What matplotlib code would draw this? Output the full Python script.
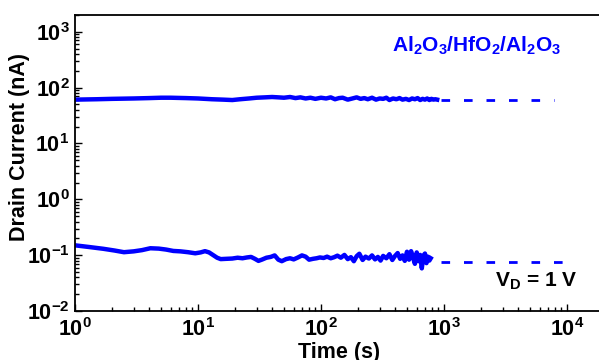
import numpy as np
import matplotlib
matplotlib.use('Agg')
import matplotlib.pyplot as plt

plt.rcParams['font.family'] = ['Liberation Sans', 'DejaVu Sans']
plt.rcParams['font.weight'] = 'bold'
plt.rcParams['mathtext.fontset'] = 'custom'
plt.rcParams['mathtext.rm'] = 'Liberation Sans:bold'
plt.rcParams['mathtext.bf'] = 'Liberation Sans:bold'
plt.rcParams['mathtext.it'] = 'Liberation Sans:bold'
plt.rcParams['mathtext.default'] = 'regular'

# upper trace (nA)
t_hi = [1, 1.5, 2, 3, 4, 5, 6, 8, 10, 13, 16, 19, 22, 26, 30, 35, 40, 45, 50, 56,
        62, 68, 75, 82, 90, 100, 110, 120, 130, 140, 150, 165, 180, 195, 210, 225,
        240, 260, 280, 300, 320, 340, 360, 385, 410, 435, 460, 490, 520, 550, 580,
        610, 640, 670, 700, 730, 760, 790, 820, 850, 880]
i_hi = [61, 62, 63, 64, 65, 66, 66, 65, 64, 62, 61, 60, 62, 64, 66, 67, 68, 67, 66, 68,
        65, 67, 64, 66, 63, 66, 64, 67, 62, 65, 66, 61, 64, 67, 63, 65,
        62, 66, 61, 64, 63, 66, 60, 64, 62, 65, 61, 63, 60, 64, 62,
        65, 60, 63, 61, 64, 60, 63, 61, 62, 61]

# lower trace (nA)
t_lo = [1, 1.3, 1.7, 2.1, 2.5, 3.0, 3.5, 4.1, 4.8, 5.5, 6.3, 7.2, 8.3, 9.5, 10.5,
        11.4, 12.3, 13.3, 14.3, 15.3, 17, 19, 21, 23, 25, 27, 29, 31, 33, 36,
        39, 42, 45, 48, 52, 56, 60, 65, 70, 75, 80, 86, 92, 98, 105,
        112, 120, 128, 136, 145, 155, 165, 175, 185, 195, 205, 218, 230, 245, 260,
        275, 290, 305, 320, 340, 360, 380, 400, 420, 440, 460, 480, 500, 520, 540,
        560, 580, 600, 620, 640, 660, 680, 700, 720, 740, 760, 780]
i_lo = [0.150, 0.140, 0.130, 0.121, 0.113, 0.117, 0.123, 0.133, 0.131, 0.126,
        0.119, 0.117, 0.113, 0.108, 0.112, 0.118, 0.112, 0.100, 0.090, 0.085,
        0.086, 0.087, 0.090, 0.088, 0.091, 0.093, 0.086, 0.079, 0.083, 0.090,
        0.093, 0.099, 0.083, 0.078, 0.085, 0.088, 0.084, 0.091, 0.099, 0.094,
        0.083, 0.086, 0.088, 0.091, 0.089, 0.094, 0.088, 0.092, 0.098, 0.090,
        0.101, 0.085, 0.092, 0.078, 0.096, 0.106, 0.082, 0.094, 0.087, 0.099,
        0.084, 0.093, 0.080, 0.097, 0.088, 0.104, 0.082, 0.097, 0.109, 0.086,
        0.099, 0.079, 0.115, 0.083, 0.118, 0.090, 0.070, 0.112, 0.078, 0.101,
        0.058, 0.098, 0.107, 0.072, 0.094, 0.080, 0.088]

# extrapolation
t_ext_hi = [940, 7800]
i_ext_hi = [61, 61]
t_ext_lo = [940, 9600]
i_ext_lo = [0.076, 0.076]

fig = plt.figure(figsize=(5.99, 3.6), dpi=100)
ax = fig.add_axes([75/599, 49/360, 553.5/599, 296/360])

ax.plot(t_hi, i_hi, color='#0000ff', lw=3.2, solid_joinstyle='round')
ax.plot(t_lo, i_lo, color='#0000ff', lw=3.2, solid_joinstyle='round')
ax.plot(t_ext_hi, i_ext_hi, color='#0000ff', lw=2, dashes=(3.1, 5))
ax.plot(t_ext_lo, i_ext_lo, color='#0000ff', lw=2, dashes=(3.1, 5))

ax.set_xscale('log')
ax.set_yscale('log')
ax.set_xlim(1, 10**4.5)
ax.set_ylim(1e-2, 2e3)
ax.set_yticks([1e-2, 1e-1, 1, 10, 100, 1000])

for s in ax.spines.values():
    s.set_linewidth(1.3)
ax.tick_params(which='both', direction='in', top=False, right=False, labelsize=15.5)
ax.tick_params(which='major', length=5, width=1)
ax.tick_params(which='minor', length=3, width=1)
ax.tick_params(axis='y', pad=4)
ax.tick_params(axis='x', pad=5)

fig.text(20/599, 1 - 147/360, 'Drain Current (nA)', rotation=90, ha='center', va='center',
         fontsize=15.5, fontweight='bold')
fig.text(339/599, 2/360, 'Time (s)', ha='center', va='baseline', fontsize=15.5, fontweight='bold')

fig.text(392/599, 1 - 52/360, r'$\mathbf{Al_2O_3/HfO_2/Al_2O_3}$', color='#0000ff',
         ha='left', va='baseline', fontsize=15)
fig.text(495/599, 1 - 287/360, r'V$_\mathbf{D}$ = 1 V', color='black',
         ha='left', va='baseline', fontsize=15, fontweight='bold')

fig.savefig('out.png', dpi=100)
